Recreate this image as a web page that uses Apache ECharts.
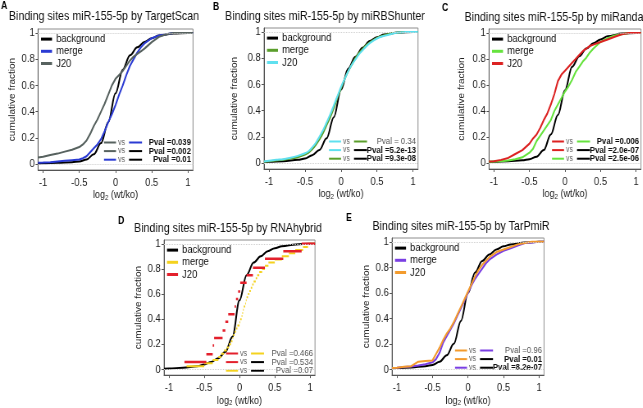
<!DOCTYPE html>
<html><head><meta charset="utf-8">
<script src="https://cdn.jsdelivr.net/npm/echarts@6/dist/echarts.min.js"></script>
<style>html,body{margin:0;padding:0;background:#fff;overflow:hidden}#c{width:785px;height:408px;transform:scaleX(0.82);transform-origin:0 0}</style>
</head><body><div id="c"></div>
<script>
// ---------- DATA ----------
const panelLetters = ['A','B','C','D','E'];
const panelTitles = [
  'Binding sites miR-155-5p by TargetScan',
  'Binding sites miR-155-5p by miRBShunter',
  'Binding sites miR-155-5p by miRanda',
  'Binding sites miR-155-5p by RNAhybrid',
  'Binding sites miR-155-5p by TarPmiR'
];
const seriesNames = ['background','merge','J20'];
const xTicks = [-1,-0.5,0,0.5,1];
const yTicks = [0,0.2,0.4,0.6,0.8,1];

// background curves (x grid shared)
const bgX = [-1.07,-1,-0.8,-0.6,-0.5,-0.4,-0.3,-0.2,-0.1,0,0.1,0.2,0.3,0.4,0.5,0.6,0.8,1,1.07];
const A_bg = [0.004,0.006,0.01,0.015,0.02,0.035,0.075,0.16,0.32,0.54,0.72,0.83,0.89,0.93,0.96,0.98,0.995,1,1];
const B_bg = [0.008,0.01,0.015,0.025,0.035,0.06,0.1,0.19,0.35,0.56,0.72,0.81,0.88,0.93,0.96,0.98,0.995,1,1];
const C_bg = [0.008,0.01,0.015,0.022,0.03,0.05,0.1,0.22,0.37,0.56,0.74,0.82,0.88,0.92,0.95,0.975,0.995,1,1];
const D_bg = [0.005,0.008,0.013,0.025,0.04,0.06,0.09,0.14,0.26,0.55,0.75,0.85,0.9,0.94,0.965,0.98,0.995,1,1];
const E_bg = [0.008,0.01,0.015,0.025,0.035,0.06,0.11,0.2,0.38,0.6,0.76,0.85,0.9,0.94,0.965,0.98,0.995,1,1];

// merge / J20 cumulative curves (x grid shared)
const cdfX = [-1.07,-1,-0.9,-0.8,-0.7,-0.6,-0.5,-0.45,-0.4,-0.35,-0.3,-0.25,-0.2,-0.15,-0.1,-0.05,0,0.05,0.1,0.15,0.2,0.25,0.3,0.35,0.4,0.5,0.6,0.7,0.8,0.9,1,1.07];
const A_merge = [0.01,0.012,0.015,0.02,0.025,0.03,0.035,0.045,0.06,0.09,0.12,0.15,0.19,0.25,0.32,0.38,0.45,0.53,0.6,0.68,0.75,0.8,0.85,0.89,0.92,0.96,0.98,0.99,1,1,1,1];
const A_j20   = [0.05,0.056,0.07,0.08,0.095,0.11,0.13,0.15,0.18,0.23,0.29,0.34,0.4,0.46,0.53,0.6,0.65,0.68,0.71,0.75,0.79,0.82,0.84,0.86,0.88,0.93,0.97,0.99,1,1,1,1];
const B_merge = [0.01,0.015,0.02,0.025,0.035,0.045,0.065,0.08,0.105,0.14,0.18,0.23,0.29,0.35,0.42,0.5,0.57,0.64,0.7,0.75,0.8,0.84,0.87,0.9,0.92,0.955,0.975,0.99,0.995,1,1,1];
const B_j20   = [0.012,0.018,0.025,0.03,0.04,0.055,0.075,0.09,0.12,0.155,0.2,0.25,0.31,0.37,0.44,0.51,0.58,0.64,0.7,0.75,0.79,0.83,0.86,0.89,0.915,0.95,0.97,0.985,0.995,1,1,1];
const C_merge = [0.01,0.012,0.015,0.02,0.03,0.045,0.08,0.11,0.17,0.21,0.25,0.29,0.33,0.4,0.45,0.5,0.55,0.59,0.64,0.7,0.74,0.78,0.81,0.85,0.88,0.93,0.96,0.98,0.99,1,1,1];
const C_j20   = [0.012,0.015,0.025,0.04,0.07,0.1,0.15,0.19,0.22,0.27,0.33,0.38,0.45,0.53,0.63,0.68,0.71,0.74,0.77,0.8,0.83,0.86,0.88,0.9,0.91,0.93,0.95,0.97,0.99,1,1,1];
const E_merge = [0.01,0.012,0.018,0.022,0.03,0.04,0.055,0.08,0.13,0.21,0.26,0.31,0.36,0.42,0.48,0.54,0.6,0.66,0.71,0.75,0.79,0.83,0.86,0.88,0.9,0.93,0.95,0.97,0.99,0.995,1,1];
const E_j20   = [0.01,0.012,0.02,0.025,0.06,0.065,0.07,0.12,0.17,0.23,0.28,0.32,0.37,0.43,0.49,0.55,0.61,0.67,0.73,0.78,0.82,0.85,0.88,0.9,0.92,0.94,0.96,0.98,0.99,1,1,1];

// panel D step data (sorted values and cumulative levels)
const D_j20_x = [-0.78,-0.47,-0.38,-0.36,-0.24,-0.2,-0.16,-0.07,-0.05,-0.02,0.01,0.1,0.19,0.36,0.62,0.88];
const D_j20_y = [0.06,0.12,0.19,0.25,0.31,0.38,0.44,0.5,0.56,0.62,0.69,0.75,0.81,0.88,0.94,1];
const D_merge_x = [-0.75,-0.5,-0.38,-0.3,-0.26,-0.22,-0.18,-0.15,-0.12,-0.1,-0.09,-0.07,-0.05,-0.03,0,0.01,0.03,0.04,0.05,0.06,0.08,0.09,0.1,0.12,0.14,0.16,0.18,0.2,0.23,0.25,0.28,0.32,0.36,0.41,0.5,0.6,0.7,0.79,0.9,0.97];
const D_merge_y = [0.025,0.05,0.075,0.1,0.125,0.15,0.175,0.2,0.225,0.25,0.275,0.3,0.325,0.35,0.375,0.4,0.425,0.45,0.475,0.5,0.525,0.55,0.575,0.6,0.625,0.65,0.675,0.7,0.725,0.75,0.775,0.8,0.825,0.85,0.875,0.9,0.925,0.95,0.975,1];

// p-value annotations (rows: J20 vs merge, J20 vs background, merge vs background)
const pvalTexts = [
  ['Pval =0.039','Pval =0.002','Pval =0.01'],
  ['Pval = 0.34','Pval =5.2e-13','Pval =9.3e-08'],
  ['Pval =0.006','Pval =2.0e-07','Pval =2.5e-06'],
  ['Pval =0.466','Pval =0.534','Pval =0.07'],
  ['Pval =0.96','Pval =0.01','Pval =8.2e-07']
];
const pvalBold = [[1,1,1],[0,1,1],[1,1,1],[0,0,0],[0,1,1]];

// ---------- STYLE / LAYOUT (reference pixel coordinates) ----------
const SX = 0.82; // horizontal compression of the figure (page is scaled by CSS)
const colors = [
  {bg:'#000000', merge:'#2b3bd3', j20:'#57625f'},
  {bg:'#000000', merge:'#5a9e2b', j20:'#5fe0ef'},
  {bg:'#000000', merge:'#66e33e', j20:'#dc2222'},
  {bg:'#000000', merge:'#f4d21f', j20:'#e3202c'},
  {bg:'#000000', merge:'#7a3fe3', j20:'#f39b2d'}
];
const boxes = [
  {left:38, top:29, width:155, height:141, title:[104,16], letter:[1,1], yName:26},
  {left:264, top:28, width:154, height:141, title:[325,16], letter:[213,2], yName:30},
  {left:489, top:29, width:152, height:140, title:[554,17], letter:[442,3], yName:28},
  {left:164, top:240, width:151, height:141, title:[228,228], letter:[118,216], yName:26},
  {left:392, top:238, width:152, height:140, title:[461,226], letter:[346,213], yName:26}
];
const FR = "'Liberation Sans',Arial,Helvetica,sans-serif";
const ux = v => v / SX;

const bgData = [A_bg,B_bg,C_bg,D_bg,E_bg];
const mergeData = [A_merge,B_merge,C_merge,null,E_merge];
const j20Data = [A_j20,B_j20,C_j20,null,E_j20];

const pair = (xs, ys) => xs.map((x,i)=>[x, ys[i]]);
function stepSegments(xs, ys, xEnd){
  const out = [];
  xs.forEach((x,i)=>{
    const x2 = i < xs.length-1 ? xs[i+1] : xEnd;
    out.push([x, ys[i]], [x2, ys[i]], [x2, '-']);
  });
  return out;
}

const grid=[], xAxis=[], yAxis=[], series=[], legend=[], graphic=[];
boxes.forEach((b,i)=>{
  const P = panelLetters[i], col = colors[i];
  grid.push({left:ux(b.left), top:b.top, width:ux(b.width), height:b.height, show:true, borderColor:'#8c8c8c', borderWidth:1});
  xAxis.push({
    type:'value', gridIndex:i, min:-1.07, max:1.07,
    name:'{a|log}{b|2}{a| (wt/ko)}', nameLocation:'middle', nameGap:17,
    nameTextStyle:{rich:{a:{fontFamily:FR, fontSize:11, color:'#222'}, b:{fontFamily:FR, fontSize:7.5, color:'#222', padding:[5,0,0,0]}}},
    axisLine:{show:true, onZero:false, lineStyle:{color:'#555', width:1}},
    axisTick:{show:true, length:3, customValues:xTicks, lineStyle:{color:'#555'}},
    axisLabel:{customValues:xTicks, fontFamily:FR, fontSize:11.5, color:'#222', margin:7},
    splitLine:{show:false}
  });
  yAxis.push({
    type:'value', gridIndex:i, min:-0.045, max:1.03,
    name:'cumulative fraction', nameLocation:'middle', nameGap:ux(b.yName)-6, nameRotate:90,
    nameTextStyle:{fontFamily:FR, fontSize:10, color:'#222'},
    axisLine:{show:true, onZero:false, lineStyle:{color:'#555', width:1}},
    axisTick:{show:true, length:3, customValues:yTicks, lineStyle:{color:'#555'}},
    axisLabel:{customValues:yTicks, fontFamily:FR, fontSize:11.5, color:'#222', margin:4},
    splitLine:{show:false}
  });
  const names = seriesNames.map(n=>P+'|'+n);
  series.push({
    name:names[0], type:'line', xAxisIndex:i, yAxisIndex:i, data:pair(bgX, bgData[i]),
    smooth:0.35, smoothMonotone:'x', showSymbol:false, color:col.bg, lineStyle:{width:2, color:col.bg},
    markLine:{silent:true, symbol:'none', label:{show:false}, lineStyle:{color:'#d0d0d0', type:'dotted', width:1},
      data:[{yAxis:0},{yAxis:1}]}
  });
  if (i === 3) {
    series.push({name:names[1], type:'line', xAxisIndex:i, yAxisIndex:i, data:stepSegments(D_merge_x, D_merge_y, 1.07),
      showSymbol:false, connectNulls:false, color:col.merge, lineStyle:{width:2, color:col.merge}});
    series.push({name:names[2], type:'line', xAxisIndex:i, yAxisIndex:i, data:stepSegments(D_j20_x, D_j20_y, 1.07),
      showSymbol:false, connectNulls:false, color:col.j20, lineStyle:{width:2.5, color:col.j20}});
  } else {
    const sm = i===1 ? 0.3 : false;
    series.push({name:names[1], type:'line', xAxisIndex:i, yAxisIndex:i, data:pair(cdfX, mergeData[i]),
      smooth:sm, showSymbol:false, color:col.merge, lineStyle:{width:2, color:col.merge}});
    series.push({name:names[2], type:'line', xAxisIndex:i, yAxisIndex:i, data:pair(cdfX, j20Data[i]),
      smooth:sm, showSymbol:false, color:col.j20, lineStyle:{width:2, color:col.j20}});
  }
  legend.push({
    left:ux(b.left+3), top:b.top+4, orient:'vertical', icon:'rect', itemWidth:ux(11), itemHeight:3, itemGap:0, padding:0,
    selectedMode:false, data:names, formatter:n=>n.split('|')[1],
    textStyle:{fontFamily:FR, fontSize:11.5, lineHeight:12.2, color:'#111'}
  });
  graphic.push({type:'text', x:ux(b.title[0]), y:b.title[1], silent:true,
    style:{text:panelTitles[i], fontFamily:FR, fontSize:13, fill:'#111', align:'center', verticalAlign:'middle'}});
  graphic.push({type:'text', x:ux(b.letter[0]), y:b.letter[1], silent:true,
    style:{text:P, fontFamily:FR, fontSize:10.5, fontWeight:'bold', fill:'#000', align:'left', verticalAlign:'top'}});
  const R = b.left + b.width, Bt = b.top + b.height;
  const rowCols = [[col.j20,col.merge],[col.j20,col.bg],[col.merge,col.bg]];
  for (let r=0;r<3;r++){
    const y = Bt - 27.5 + r*8.6;
    graphic.push({type:'line', silent:true, shape:{x1:ux(R-89), y1:y, x2:ux(R-77), y2:y}, style:{stroke:rowCols[r][0], lineWidth:2}});
    graphic.push({type:'text', silent:true, x:ux(R-75), y:y, style:{text:'vs', fontFamily:FR, fontSize:8.5, fill:'#666', align:'left', verticalAlign:'middle'}});
    graphic.push({type:'line', silent:true, shape:{x1:ux(R-64), y1:y, x2:ux(R-51), y2:y}, style:{stroke:rowCols[r][1], lineWidth:2}});
    graphic.push({type:'text', silent:true, x:ux(R-2), y:y, style:{text:pvalTexts[i][r], fontFamily:FR, fontSize:9.5,
      fontWeight:pvalBold[i][r]?'bold':'normal', fill:pvalBold[i][r]?'#111':'#555', align:'right', verticalAlign:'middle'}});
  }
});

const chart = echarts.init(document.getElementById('c'), null, {renderer:'canvas', width:785, height:408});
chart.setOption({animation:false, backgroundColor:'#fff', grid, xAxis, yAxis, series, legend, graphic});
</script></body></html>
